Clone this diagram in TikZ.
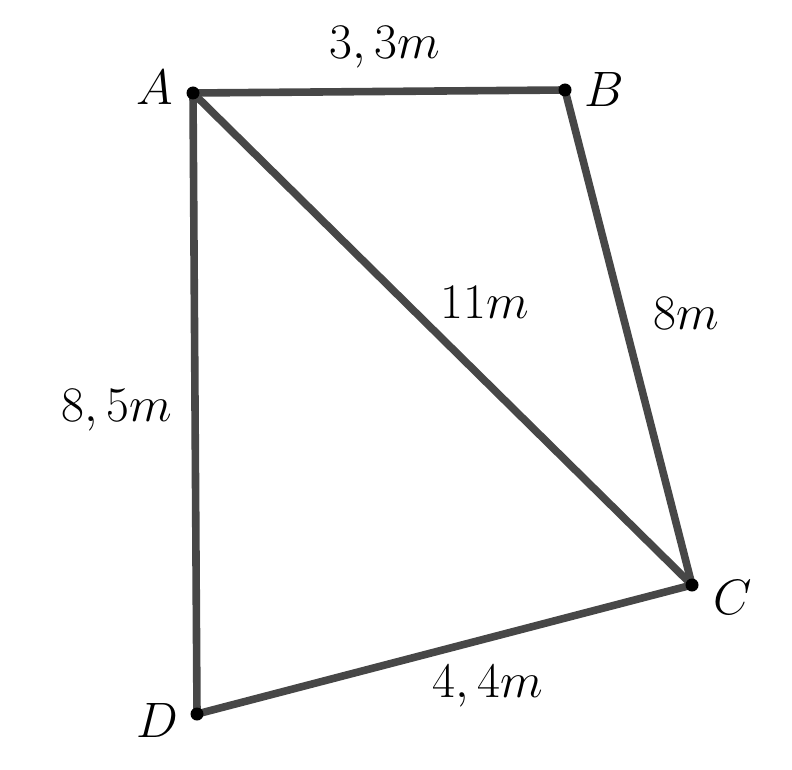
\documentclass[tikz,border=0pt]{standalone}
\begin{document}
\begin{tikzpicture}[x=0.5pt,y=-0.5pt,
  edge/.style={line width=3.8pt,color=black!72},
  pt/.style={circle,fill=black,inner sep=0pt,minimum size=6.5pt},
  lbl/.style={font=\fontsize{26}{30}\selectfont}]
\useasboundingbox (0,0) rectangle (792,770);
\coordinate (A) at (193,93);
\coordinate (B) at (565,90);
\coordinate (C) at (692,585);
\coordinate (D) at (197,714);
\draw[edge,line join=round] (A) -- (B) -- (C) -- (D) -- cycle;
\draw[edge] (A) -- (C);
\foreach \p in {A,B,C,D} \node[pt] (n\p) at (\p) {};
\node[lbl] (lA) at (155,88) {$A$};
\node[lbl] (lB) at (604,90) {$B$};
\node[lbl] (lC) at (733,597) {$C$};
\node[lbl] (lD) at (157,720) {$D$};
\node[lbl] (lAB) at (385,47) {$3,3m$};
\node[lbl] (lAC) at (485,302) {$11m$};
\node[lbl] (lBC) at (686,313) {$8m$};
\node[lbl] (lAD) at (117,410) {$8,5m$};
\node[lbl] (lCD) at (488,686) {$4,4m$};
\end{tikzpicture}
\end{document}
